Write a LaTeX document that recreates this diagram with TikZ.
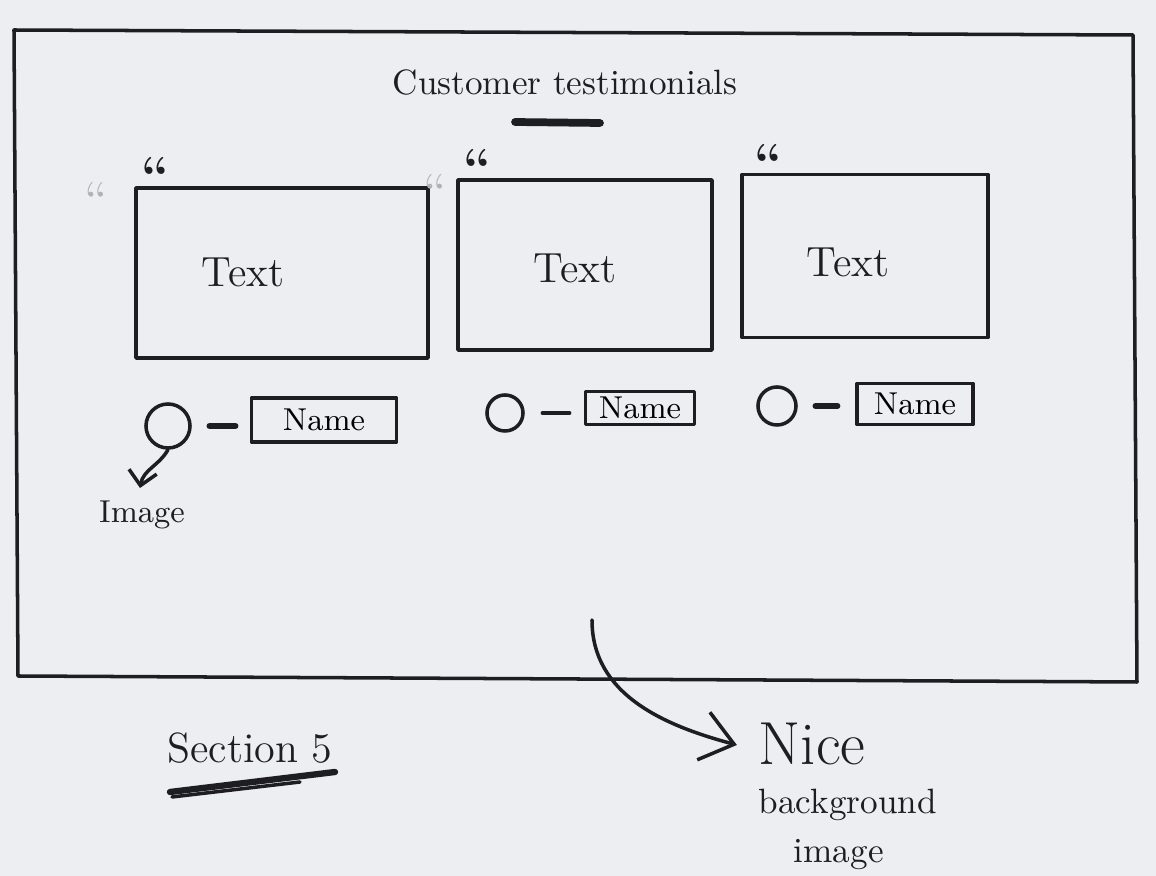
\documentclass[tikz,border=0pt]{standalone}
\usepackage{amsmath, amssymb}
\usetikzlibrary{arrows.meta}

\definecolor{paper}{RGB}{236,238,241}
\definecolor{pencil}{RGB}{30,30,34}
\definecolor{faint}{RGB}{175,178,182}

\tikzset{
  ink/.style={draw=pencil, line width=1pt, line join=round, line cap=round},
  namebox/.style={ink, inner sep=0pt, font=\small},
  photo/.style={ink, circle, inner sep=0pt},
  quote/.style={font=\Large\bfseries, text=pencil, inner sep=0pt}
}

\begin{document}
\begin{tikzpicture}[x=0.01cm, y=-0.01cm]
    \fill[paper] (0,0) rectangle (1156,876);
    \useasboundingbox (0,0) rectangle (1156,876);

    % outer frame of the section
    \draw[ink] (14,30) -- (1133,35) -- (1137,682) -- (18,676) -- cycle;
    \node[text=pencil] (title) at (565,82) {Customer testimonials};
    \draw[ink, line width=2.2pt] (515,122) -- (600,123);

    % the three testimonial cards
    \node[ink, minimum width=2.92cm, minimum height=1.7cm] (card1) at (282,273) {};
    \node[ink, minimum width=2.54cm, minimum height=1.7cm] (card2) at (585,265) {};
    \node[ink, minimum width=2.46cm, minimum height=1.63cm] (card3) at (865,256) {};
    \node[font=\large, text=pencil] (txt1) at (243,272) {Text};
    \node[font=\large, text=pencil] (txt2) at (575,268) {Text};
    \node[font=\large, text=pencil] (txt3) at (848,262) {Text};

    % quote marks
    \node[quote, anchor=south west] (q1) at ([xshift=2pt, yshift=-2pt]card1.north west) {``};
    \node[quote, anchor=south west] (q2) at ([xshift=2pt, yshift=-2pt]card2.north west) {``};
    \node[quote, anchor=south west] (q3) at ([xshift=4pt, yshift=-2pt]card3.north west) {``};
    \node[font=\Large, text=faint, anchor=east] (f1) at ([xshift=-6pt, yshift=-7pt]q1.west) {``};
    \node[font=\Large, text=faint, anchor=east] (f2) at ([xshift=-1pt, yshift=-7pt]q2.west) {``};

    % photo - name rows
    \node[photo, minimum size=0.44cm] (img1) at (168,426) {};
    \node[photo, minimum size=0.36cm] (img2) at (505,413) {};
    \node[photo, minimum size=0.38cm] (img3) at (777,406) {};
    \node[namebox, minimum width=1.45cm, minimum height=0.44cm] (name1) at (324,420) {Name};
    \node[namebox, minimum width=1.09cm, minimum height=0.33cm] (name2) at (640,408) {Name};
    \node[namebox, minimum width=1.16cm, minimum height=0.41cm] (name3) at (915,404) {Name};
    \draw[ink, line width=1.6pt] ([xshift=5pt]img1.east) -- ([xshift=-4pt]name1.west |- img1.east);
    \draw[ink] ([xshift=5pt]img2.east) -- ([xshift=-4pt]name2.west |- img2.east);
    \draw[ink, line width=1.6pt] ([xshift=5pt]img3.east) -- ([xshift=-5pt]name3.west |- img3.east);

    % image hint
    \node[font=\small, text=pencil] (imglabel) at (142,515) {Image};
    \draw[ink, -{Straight Barb[length=4pt]}] (img1.south) to[out=240, in=80] (140,488);

    % footer notes
    \node[font=\large, text=pencil] (section) at (250,748) {Section 5};
    \draw[ink, line width=1.8pt] (170,792) -- (335,772);
    \draw[ink] (172,797) -- (300,782);

    \node[text=pencil, align=left, anchor=north west, inner sep=0pt] (bgnote) at (758,722)
        {{\LARGE Nice}\\[2pt] background\\[2pt] \quad image};
    \draw[ink, -{Straight Barb[length=9pt, width=14pt]}] (592,620) to[out=270, in=165] ([xshift=-6pt]bgnote.west |- 0,745);
\end{tikzpicture}
\end{document}
